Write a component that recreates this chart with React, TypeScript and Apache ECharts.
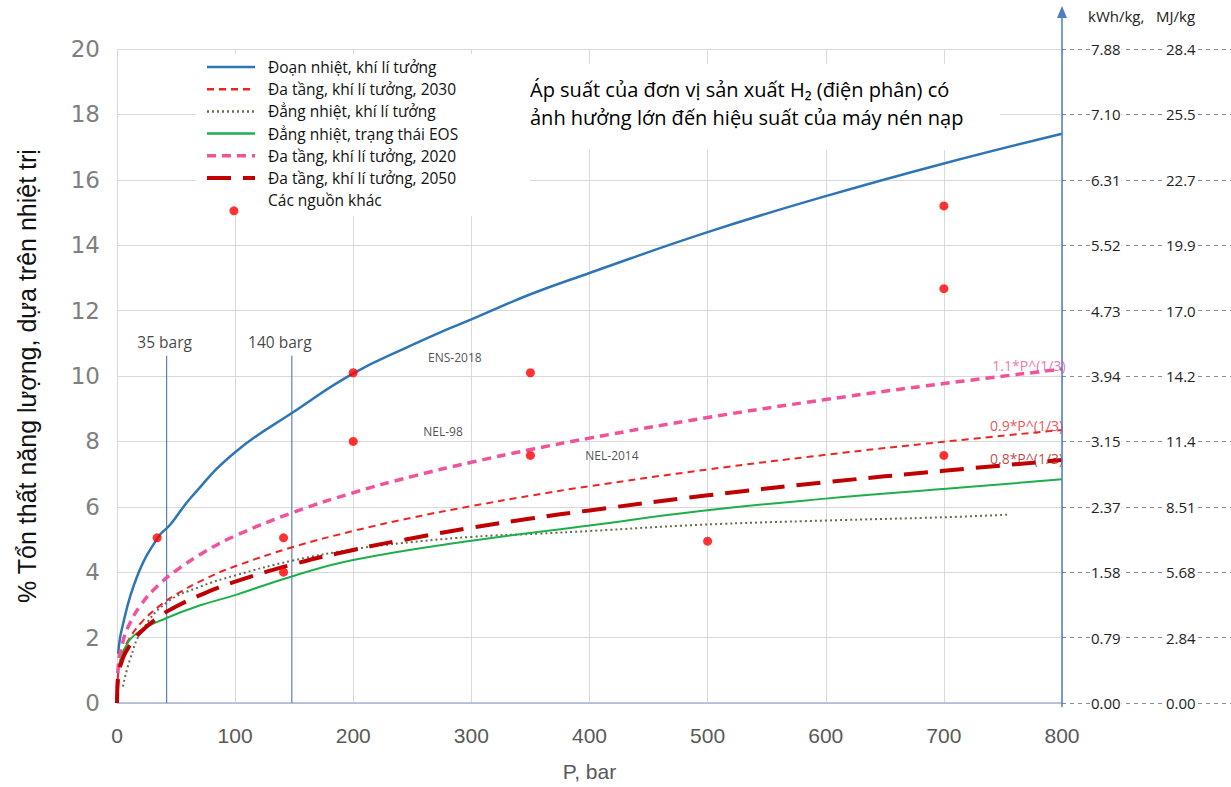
import React, { useEffect, useRef } from "react";
import * as echarts from "echarts";

// ---- Data ----
const P_ADIA = [1, 4, 17, 35, 45, 63, 100, 149, 200, 250, 277, 300, 350, 400, 500, 600, 700, 800];
const ADIA = [1.5, 2.25, 3.87, 5.08, 5.45, 6.3, 7.67, 8.89, 10.08, 10.95, 11.39, 11.73, 12.5, 13.15, 14.4, 15.5, 16.5, 17.41];

const P_STAGE = [0, 1, 5, 10, 20, 35, 50, 75, 100, 150, 200, 250, 300, 350, 400, 500, 600, 700, 800];
const STAGE_2020 = [0, 1.1, 1.88, 2.37, 2.99, 3.6, 4.05, 4.64, 5.11, 5.84, 6.43, 6.93, 7.36, 7.75, 8.1, 8.73, 9.28, 9.77, 10.21];
const STAGE_2030 = [0, 0.9, 1.54, 1.94, 2.44, 2.94, 3.32, 3.8, 4.18, 4.78, 5.26, 5.67, 6.02, 6.34, 6.63, 7.14, 7.59, 7.99, 8.35];
const STAGE_2050 = [0, 0.8, 1.37, 1.72, 2.17, 2.62, 2.95, 3.37, 3.71, 4.25, 4.68, 5.04, 5.36, 5.64, 5.89, 6.35, 6.75, 7.1, 7.43];

const P_ISO = [5, 11, 21, 42, 70, 100, 148, 200, 226, 300, 358, 400, 494, 600, 700, 755];
const ISO_IDEAL = [0.5, 1.33, 2.2, 3.07, 3.55, 3.9, 4.35, 4.7, 4.83, 5.08, 5.18, 5.26, 5.45, 5.58, 5.68, 5.76];

const P_EOS = [1, 2, 6, 17, 42, 70, 100, 148, 200, 300, 400, 494, 600, 702, 800];
const ISO_EOS = [0.95, 1.19, 1.64, 2.14, 2.6, 2.98, 3.3, 3.87, 4.37, 4.96, 5.43, 5.87, 6.25, 6.55, 6.84];

const P_OTHER = [34, 141, 141, 200, 200, 350, 350, 500, 700, 700, 700];
const OTHER = [5.05, 5.05, 4.0, 10.1, 8.0, 10.1, 7.57, 4.95, 15.2, 12.67, 7.57];

const ANNO_TEXT = ["ENS-2018", "NEL-98", "NEL-2014"];
const ANNO_P = [286, 276, 419];
const ANNO_Y = [10.56, 8.31, 7.58];

const FORMULA_TEXT = ["1.1*P^(1/3)", "0.9*P^(1/3)", "0.8*P^(1/3)"];
const FORMULA_P = [772, 770, 770];
const FORMULA_Y = [10.33, 8.5, 7.47];

const BARG_TEXT = ["35 barg", "140 barg"];
const BARG_P = [42, 148];
const BARG_TOP = [10.62, 10.62];

const KWH_LABELS = ["0.00", "0.79", "1.58", "2.37", "3.15", "3.94", "4.73", "5.52", "6.31", "7.10", "7.88"];
const MJ_LABELS = ["0.00", "2.84", "5.68", "8.51", "11.4", "14.2", "17.0", "19.9", "22.7", "25.5", "28.4"];

const NAMES = [
  "Đoạn nhiệt, khí lí tưởng",
  "Đa tầng, khí lí tưởng, 2030",
  "Đẳng nhiệt, khí lí tưởng",
  "Đẳng nhiệt, trạng thái EOS",
  "Đa tầng, khí lí tưởng, 2020",
  "Đa tầng, khí lí tưởng, 2050",
  "Các nguồn khác",
];

const COLORS = ["#2e75b6", "#ee2424", "#6a6a50", "#1fae4c", "#f0529c", "#c00000", "#ff0000"];
const WIDTHS = [2.5, 2, 2, 2, 3.5, 4];
const DASHES: any[] = [null, [7, 5], [2, 3], null, [9, 6], [24, 12]];

const zip = (xs: number[], ys: number[]) => xs.map((x, i) => [x, ys[i]]);

const FONT = '"Open Sans", "Noto Sans", sans-serif';
const NARROW = '"Liberation Sans Narrow", "Liberation Sans", sans-serif';

export default function App() {
  const ref = useRef<HTMLDivElement>(null);
  useEffect(() => {
    if (!ref.current) return;
    const chart = echarts.init(ref.current, undefined, { renderer: "svg" });
    const lineBase = { type: "line", symbol: "none", smooth: 0.45, z: 3 };
    const seriesData = [
      zip(P_ADIA, ADIA),
      zip(P_STAGE, STAGE_2030),
      zip(P_ISO, ISO_IDEAL),
      zip(P_EOS, ISO_EOS),
      zip(P_STAGE, STAGE_2020),
      zip(P_STAGE, STAGE_2050),
    ];

    // manual legend
    const legendEls: any[] = [];
    NAMES.forEach((name, i) => {
      const y = 67 + i * 22.2;
      if (i < 6) {
        legendEls.push({
          type: "line",
          z: 6,
          shape: { x1: 207, y1: y, x2: 255, y2: y },
          style: { stroke: COLORS[i], lineWidth: Math.max(WIDTHS[i], 2.5), lineDash: DASHES[i] || null },
        });
      }
      legendEls.push({
        type: "text",
        z: 6,
        x: 268,
        y,
        style: { text: name, font: '15.5px "Open Sans", "Noto Sans", sans-serif', fill: "#111", verticalAlign: "middle" },
      });
    });

    const option: any = {
      animation: false,
      backgroundColor: "#fff",
      grid: { left: 117, right: 169, top: 49, bottom: 80 },
      xAxis: {
        type: "value",
        min: 0,
        max: 800,
        interval: 100,
        name: "P, bar",
        nameLocation: "middle",
        nameGap: 58,
        nameTextStyle: { fontFamily: NARROW, fontSize: 21, color: "#595959" },
        axisLine: { show: true, lineStyle: { color: "#a9b6cf", width: 1.5 } },
        axisTick: { show: false },
        axisLabel: { fontFamily: NARROW, fontSize: 21, color: "#595959", margin: 22 },
        splitLine: { show: true, lineStyle: { color: "#d9d9d9", width: 1 } },
      },
      yAxis: [
        {
          type: "value",
          min: 0,
          max: 20,
          interval: 2,
          name: "% Tổn thất năng lượng, dựa trên nhiệt trị",
          nameLocation: "middle",
          nameGap: 78,
          nameTextStyle: { fontFamily: NARROW, fontSize: 25, color: "#111" },
          axisLine: { show: false },
          axisTick: { show: false },
          axisLabel: { fontFamily: '"DejaVu Sans", sans-serif', fontSize: 23, color: "#7f7f7f", margin: 17 },
          splitLine: { show: true, lineStyle: { color: "#d9d9d9", width: 1 } },
        },
        {
          type: "value",
          position: "right",
          min: 0,
          max: 20,
          interval: 2,
          axisLine: { show: false },
          axisTick: { show: true, length: 170, lineStyle: { color: "#7d8cab", type: [4, 4], width: 1 } },
          axisLabel: {
            fontFamily: FONT,
            fontSize: 15,
            color: "#222",
            margin: 28,
            backgroundColor: "#fff",
            padding: [0, 1],
            formatter: (v: number) => KWH_LABELS[Math.round(v / 2)],
          },
          splitLine: { show: false },
        },
        {
          type: "value",
          position: "right",
          min: 0,
          max: 20,
          interval: 2,
          axisLine: { show: false },
          axisTick: { show: false },
          axisLabel: {
            fontFamily: FONT,
            fontSize: 15,
            color: "#222",
            margin: 103,
            backgroundColor: "#fff",
            padding: [0, 1],
            formatter: (v: number) => MJ_LABELS[Math.round(v / 2)],
          },
          splitLine: { show: false },
        },
      ],
      graphic: [
        { type: "rect", z: 1, shape: { x: 196, y: 54, width: 334, height: 162 }, style: { fill: "#fff" } },
        { type: "rect", z: 1, shape: { x: 522, y: 64, width: 478, height: 86 }, style: { fill: "#fff" } },
        ...legendEls,
        {
          type: "text",
          z: 6,
          left: 530,
          top: 75,
          style: {
            text: "Áp suất của đơn vị sản xuất H₂ (điện phân) có\nảnh hưởng lớn đến hiệu suất của máy nén nạp",
            font: '20px "Open Sans", "Noto Sans", sans-serif',
            fill: "#000",
            lineHeight: 28,
          },
        },
        { type: "line", z: 6, shape: { x1: 1062, y1: 707, x2: 1062, y2: 16 }, style: { stroke: "#4f7cc4", lineWidth: 1.5 } },
        { type: "polygon", z: 6, shape: { points: [[1062, 6], [1057, 18], [1067, 18]] }, style: { fill: "#4f7cc4" } },
        {
          type: "text",
          z: 6,
          left: 1088,
          top: 8,
          style: { text: "kWh/kg,   MJ/kg", font: '15px "Open Sans", "Noto Sans", sans-serif', fill: "#222" },
        },
      ],
      series: [
        ...seriesData.map((d, i) => ({
          ...lineBase,
          name: NAMES[i],
          data: d,
          lineStyle: { color: COLORS[i], width: WIDTHS[i], type: DASHES[i] || "solid" },
          itemStyle: { color: COLORS[i] },
        })),
        { type: "scatter", name: NAMES[6], data: zip(P_OTHER, OTHER), symbolSize: 9, itemStyle: { color: COLORS[6] }, z: 4 },
        {
          type: "scatter",
          name: "legendMarker",
          data: [[99, 15.05]],
          symbolSize: 9,
          itemStyle: { color: COLORS[6] },
          z: 7,
          silent: true,
        },
        ...BARG_P.map((p, i) => ({
          type: "line",
          name: BARG_TEXT[i],
          symbol: "none",
          z: 2,
          lineStyle: { color: "#5b80c0", width: 1.2 },
          data: [
            [p, 0],
            [p, BARG_TOP[i]],
          ],
        })),
        {
          type: "scatter",
          name: "bargLabels",
          symbolSize: 0,
          z: 4,
          data: BARG_TEXT.map((t, i) => ({
            name: t,
            value: [BARG_P[i], BARG_TOP[i]],
            label: { offset: [i === 0 ? -2 : -12, 0] },
          })),
          label: { show: true, position: "top", distance: 6, formatter: "{b}", fontFamily: FONT, fontSize: 15.5, color: "#111" },
        },
        {
          type: "scatter",
          name: "annotations",
          symbolSize: 0,
          z: 4,
          data: ANNO_TEXT.map((t, i) => ({ name: t, value: [ANNO_P[i], ANNO_Y[i]] })),
          label: { show: true, position: "inside", formatter: "{b}", fontFamily: FONT, fontSize: 12, color: "#222" },
        },
        {
          type: "scatter",
          name: "formulas",
          symbolSize: 0,
          z: 4,
          data: FORMULA_TEXT.map((t, i) => ({
            name: t,
            value: [FORMULA_P[i], FORMULA_Y[i]],
            label: { color: ["#e8509a", "#e8242a", "#b01515"][i] },
          })),
          label: { show: true, position: "inside", formatter: "{b}", fontFamily: FONT, fontSize: 14 },
        },
      ],
    };
    chart.setOption(option);
    return () => chart.dispose();
  }, []);
  return <div ref={ref} style={{ position: "fixed", left: 0, top: 0, width: 1231, height: 787 }} />;
}
